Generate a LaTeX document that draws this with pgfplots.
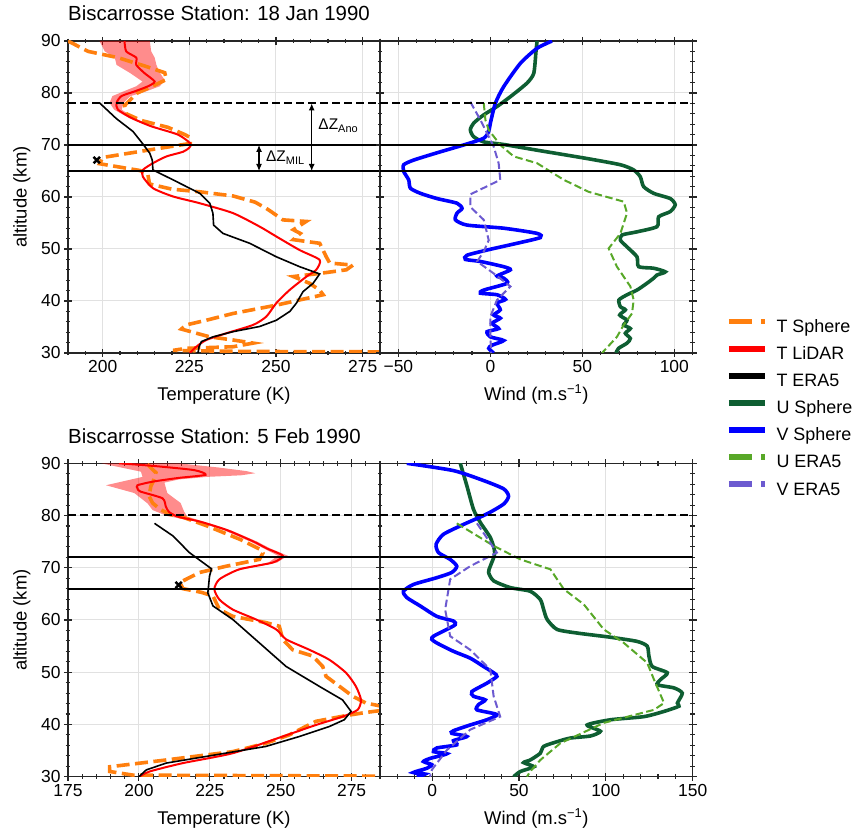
\documentclass[border=0pt]{standalone}
\usepackage{fontspec}
\setmainfont{Liberation Sans}
\usepackage{pgfplots}
\pgfplotsset{compat=1.18}
\usetikzlibrary{arrows.meta}

\definecolor{tsph}{RGB}{255,127,14}
\definecolor{usph}{RGB}{14,94,50}
\definecolor{vsph}{RGB}{0,0,255}
\definecolor{uera}{RGB}{88,168,40}
\definecolor{vera}{RGB}{108,90,208}
\definecolor{gridc}{RGB}{225,225,225}

\pgfplotsset{
  panel/.style={
    scale only axis, width=312bp, height=312bp,
    ymin=30, ymax=90, ytick={30,40,...,90}, minor ytick={30,32,...,90},
    tick align=center, tickpos=both, ticklabel pos=left,
    major tick length=8bp, minor tick length=4.5bp,
    tick style={black!85, line width=1.1bp},
    axis line style={black!85, line width=1.3bp},
    grid=major, major grid style={gridc, line width=1bp},
    tick label style={font=\fontsize{17.5}{20}\selectfont},
    /pgf/number format/assume math mode=true,
    label style={font=\fontsize{18.5}{22}\selectfont},
    xlabel style={at={(axis description cs:0.5,-0.151)}, anchor=base, inner sep=0pt},
    ylabel style={at={(axis description cs:-0.133,0.5)}, anchor=base, inner sep=0pt},
    title style={at={(axis description cs:0,1.045)}, anchor=base west, inner sep=0pt,
      font=\fontsize{20.5}{24}\selectfont},
  },
  tsphere/.style={tsph, line width=3.6bp, dash pattern=on 13bp off 5.5bp},
  tlidar/.style={red, line width=2bp, smooth, tension=0.4},
  tera/.style={black, line width=1.6bp},
  usphere/.style={usph, line width=3.6bp, smooth, tension=0.4},
  vsphere/.style={vsph, line width=3.6bp, smooth, tension=0.4},
  uera5/.style={uera, line width=2bp, dash pattern=on 7.5bp off 3.5bp},
  vera5/.style={vera, line width=2bp, dash pattern=on 7.5bp off 3.5bp},
  hsolid/.style={black, line width=1.8bp},
  hdash/.style={black, line width=1.9bp, dash pattern=on 8bp off 4bp},
  band/.style={draw=none, fill=red, fill opacity=0.45},
}

\begin{document}
\begin{tikzpicture}
\useasboundingbox (0,0) rectangle (857bp,832bp);

% ---------------- top left: temperature, 18 Jan 1990
\begin{axis}[panel, at={(68bp,479bp)}, anchor=south west,
  xmin=190, xmax=280, xtick={200,225,250,275}, minor xtick={190,195,...,280},
  xlabel={Temperature (K)}, ylabel={altitude (km)},
  title={Biscarrosse Station: 18 Jan 1990}]
\addplot[band] coordinates {
  (213.6,90) (214,88) (215,86.8) (215.5,85.4) (216.4,84) (217.9,82.5) (216.5,81.3)
  (212.5,80.3) (208,79.4) (206,78.1) (205.5,76.8) (209,75.2) (214.5,73.6)
  (213.5,73.6) (207.6,75.2) (203.3,76.8) (202,78.1) (202.8,79.4) (206,80.3)
  (209.7,81.3) (211.5,82.2) (208,83.8) (204,85.4) (203.5,86.8) (200.6,88) (199.1,90)} -- cycle;
\addplot[tsphere] coordinates {
  (190,90) (195.8,88) (204.4,86.8) (212.1,85.2) (217.9,83.9) (218.4,82.6) (215,81.5)
  (210,80) (206.3,77.6) (206.8,76) (211.2,74.7) (218.8,73.4) (223.7,72) (225.1,71.5)
  (225.3,70.3) (213,69) (200,67.6) (199.1,66.4) (210.7,65.1) (213,64.5) (213.5,62.5)
  (220,61.5) (228,61) (237.6,60.2) (244,59) (247.2,57.8) (249,57) (252,55.6)
  (258.7,55.3) (255,53.7) (257,53) (255,51.8) (262.6,51.1) (264.5,48.5) (265.5,47.3)
  (272.2,46.9) (270.3,46) (262.6,45.3) (255,44.7) (259.7,43.4) (262.6,42.1)
  (263.6,41.2) (256.8,40.2) (250.1,39.2) (237.6,37.6) (229.9,36.3) (224.1,35.4)
  (222.7,34.6) (230.9,33.1) (237.6,32.5) (243.4,31.9) (237.6,31.2) (224.1,30.9)
  (220.3,30.5) (240,30.3) (290,30.2)};
\addplot[tlidar] coordinates {
  (206.3,90) (206.8,88) (209.7,86.8) (209.7,85.4) (212.1,83.8) (215,82.2) (213.1,81.3)
  (209.2,80.3) (205.4,79.4) (204,78.1) (204.4,76.8) (208.3,75.2) (214,73.6)
  (221.7,72) (225.3,70.3) (225,69.5) (223.2,68.7) (218.4,67.8) (214.5,66.5)
  (211.6,65.2) (211.6,63.9) (214.5,61.7) (220.3,60.1) (228,58.8) (237.6,56.9)
  (245.3,54.3) (250.1,52.4) (256.8,49.8) (262.6,47.9) (261.6,46) (258.8,44.7)
  (253.9,42.1) (250.1,39.6) (247.2,37) (243.4,35.4) (235.7,33.8) (229.9,32.5)
  (227,31.2) (225.1,30)};
\addplot[tera] coordinates {
  (199.1,78.1) (203.9,75.1) (208.75,72.6) (211.6,70.2) (213.6,68.4) (214.3,67.1)
  (214.5,65.2) (220.3,63.3) (228,60.7) (230.9,58.8) (231.8,56.9) (232,54.6)
  (234.7,53) (242.4,51.1) (250.1,48.5) (256.8,46.6) (262.6,45.2) (260.7,43.4)
  (257.8,41.8) (255.9,39.6) (254,38) (250.1,36.3) (245.3,35.1) (237.6,34.1)
  (231.8,33.1) (228.5,32.2) (227.8,31.2) (227.5,30)};
\addplot[only marks, mark=x, mark size=4.5bp, line width=2.5bp, black] coordinates {(198.3,67.1)};
\addplot[hdash] coordinates {(190,78) (280,78)};
\addplot[hsolid] coordinates {(190,70) (280,70)};
\addplot[hsolid] coordinates {(190,65) (280,65)};
\draw[black, line width=1.1bp, {Latex[length=7bp,width=6bp]}-{Latex[length=7bp,width=6bp]}]
  (axis cs:260.3,78) -- (axis cs:260.3,65);
\draw[black, line width=1.1bp, {Latex[length=7bp,width=6bp]}-{Latex[length=7bp,width=6bp]}]
  (axis cs:245.1,70) -- (axis cs:245.1,65);
\node[anchor=base west, inner sep=0pt, font=\fontsize{15.5}{18}\selectfont]
  at (axis cs:262.2,72.9) {ΔZ\raisebox{-2.5bp}{\fontsize{11}{13}\selectfont Ano}};
\node[anchor=base west, inner sep=0pt, font=\fontsize{15.5}{18}\selectfont]
  at (axis cs:247.1,66.8) {ΔZ\raisebox{-2.5bp}{\fontsize{11}{13}\selectfont MIL}};
\end{axis}

% ---------------- top right: wind, 18 Jan 1990
\begin{axis}[panel, at={(380bp,479bp)}, anchor=south west, width=312.7bp,
  xmin=-60, xmax=110, xtick={-50,0,50,100}, xticklabels={−50,0,50,100},
  minor xtick={-60,-50,...,110}, yticklabels={},
  xlabel={Wind (m.s\textsuperscript{−1})},
  legend style={at={(1.1065,0.109)}, anchor=north west, draw=none, fill=none,
    inner sep=0pt, outer sep=0pt, font=\fontsize{18}{21}\selectfont,
    row sep=9.3bp, column sep=9bp,
    nodes={inner sep=0pt, text height=13bp, text depth=4bp}},
  legend cell align=left,
  legend image code/.code={\draw[#1] (0bp,6.5bp) -- (36bp,6.5bp);}]
\addlegendimage{tsph, line width=5.5bp, dash pattern=on 23bp off 9bp}
\addlegendentry{T Sphere}
\addlegendimage{red, line width=5.5bp}
\addlegendentry{T LiDAR}
\addlegendimage{black, line width=5.5bp}
\addlegendentry{T ERA5}
\addlegendimage{usph, line width=5.5bp}
\addlegendentry{U Sphere}
\addlegendimage{vsph, line width=5.5bp}
\addlegendentry{V Sphere}
\addlegendimage{uera, line width=5.5bp, dash pattern=on 23bp off 9bp}
\addlegendentry{U ERA5}
\addlegendimage{vera, line width=5.5bp, dash pattern=on 23bp off 9bp}
\addlegendentry{V ERA5}
\addplot[usphere, forget plot] coordinates {
  (25.4,90) (24.8,88) (23.6,83.8) (19.9,81.9) (10.9,79.3) (3.6,77.4) (-3.6,75.8)
  (-9.1,74.2) (-10.9,72.9) (-9.1,71.6) (-3.6,70.6) (7.2,70.1) (25.4,69) (52.5,67.4)
  (70.7,66.2) (77.9,65.2) (81.5,63.9) (83.3,62) (88.8,60.7) (97.8,59.7) (100.5,58.5)
  (97.8,57.2) (91.5,56.2) (90.6,54.3) (79.7,53.3) (71.6,52.7) (70.7,51.7) (74.3,50.4)
  (79.7,48.5) (80.6,46.6) (88.8,46.3) (95.1,45.6) (90.6,45) (88.8,44.4) (85.1,43.4)
  (79.7,42.1) (74.3,41.2) (69.9,40.2) (70.7,38.9) (73.4,38.3) (70.3,37.3) (74.3,36.3)
  (72.5,35.4) (76.1,34.7) (73.4,33.8) (76.1,32.8) (74.3,31.9) (69.7,30.9) (68.3,30)};
\addplot[vsphere, forget plot] coordinates {
  (33.5,90) (25.4,88.6) (16.3,85.7) (7.2,81.2) (2.7,78) (0,74.2) (-0.9,72.6)
  (-3.6,71.3) (-12.7,70.2) (-29,68.5) (-41.7,67.1) (-47.1,66.2) (-47.1,64.9)
  (-44.4,63.3) (-43.5,61.7) (-38,60.7) (-29,59.7) (-18.1,58.8) (-15.4,57.8)
  (-18.1,56.9) (-19,55.6) (-12.7,54.6) (7.2,54) (25.4,53) (27.2,52.2) (14.5,51.1)
  (-1.8,49.8) (-12.7,48.8) (-13.6,48) (-5.4,47.6) (7.2,46.6) (10.9,46) (3.6,44.8)
  (7.2,44.4) (9.1,43.4) (-3.6,42.1) (-5.4,41.5) (3.6,41.2) (8.2,40.3) (3.6,39.6)
  (5.4,38.3) (1.8,37.3) (5.4,36.7) (0.9,35.7) (4.5,34.7) (-1.8,34.1) (0,33.1)
  (7.2,32.4) (0.9,31.5) (-0.9,30.9) (1.8,30)};
\addplot[uera5, forget plot] coordinates {
  (-3.6,78.1) (-2.7,74.8) (-0.9,72.9) (5.4,70) (12.7,67.8) (25.4,66.5) (39.9,63.3)
  (53.4,61) (72.5,59.1) (74.3,56.9) (70.7,53) (64.3,50.1) (68.8,46.6) (76.1,42.8)
  (77.9,40.2) (77,37.6) (72.5,35.4) (68.8,33.1) (60.7,30)};
\addplot[vera5, forget plot] coordinates {
  (-10.9,78.3) (-5.4,74.8) (-2.7,72.9) (1.8,69.7) (4.5,66.5) (5.4,63.3) (-10.9,60.5)
  (-10.9,58.1) (-3.6,55.6) (-0.9,51.7) (-3.6,49.5) (-7.2,47.6) (1.8,45.3)
  (10.9,42.8) (3.6,40.2) (0,37) (0,33.8) (0.4,30)};
\addplot[hdash, forget plot] coordinates {(-60,78) (110,78)};
\addplot[hsolid, forget plot] coordinates {(-60,70) (110,70)};
\addplot[hsolid, forget plot] coordinates {(-60,65) (110,65)};
\end{axis}

% ---------------- bottom left: temperature, 5 Feb 1990
\begin{axis}[panel, at={(68bp,55.3bp)}, anchor=south west, height=313.4bp,
  xmin=175, xmax=285, xtick={175,200,225,250,275}, minor xtick={175,180,...,285},
  xlabel={Temperature (K)}, ylabel={altitude (km)},
  title={Biscarrosse Station: 5 Feb 1990}]
\addplot[band] coordinates {
  (214,90) (228,89.2) (238,88.5) (241,88.1) (236,87.7) (224,87.4) (214,86.9)
  (209,86.3) (210,84.3) (214.7,82.4) (215.9,80.8) (217,79.8) (223,78.8) (232.3,77.2)
  (241.7,75) (246.3,73.7) (252.5,72.3) (248.7,71) (236.6,69.7)
  (234.2,69.7) (245.7,71) (249,72.3) (244,73.7) (239.3,75) (229.9,77.2) (220.6,78.8)
  (210,79.9) (204.8,81.05) (203.1,82.3) (198.4,84.3) (188.4,85.8) (201.3,87.4)
  (200.7,88.4) (186.7,90)} -- cycle;
\addplot[tsphere] coordinates {
  (203,89.8) (206,88.2) (205,86.5) (204.2,85.6) (203.6,83.7) (204.8,82.4)
  (207.7,81.1) (211.2,80.2) (215.9,79.6) (224.1,78) (235.8,75.4) (242.8,73.5)
  (243.7,72.8) (242.5,71.6) (230.8,70.3) (221.4,69.1) (214.5,67.2) (215.5,66)
  (222,65.3) (226.1,64.6) (228.4,62) (233.1,60.7) (244.8,59.5) (249.5,58.8)
  (250.7,56.3) (254.2,54.3) (261.3,53.1) (264.8,51.1) (266,49.2) (270.7,47.3)
  (275.4,45.4) (280,44.1) (290,43) (280,42.3) (273,41.7) (262.4,40.6) (256.6,39)
  (253,38) (244.8,36.4) (233.1,34.8) (209.6,33.2) (189.7,31.9) (189.7,31)
  (197.9,30.3) (290,30.1)};
\addplot[tlidar] coordinates {
  (193,90) (205,89.5) (219.4,88.7) (223.5,87.8) (214,87.2) (205,86.5) (199.5,85.8)
  (199.5,85.2) (200.5,84.6) (208.3,83.3) (209.5,81.7) (210.6,80.7) (213.6,79.8)
  (221.8,78.8) (231.1,77.2) (240.5,75) (245.1,73.7) (250.7,72.3) (247.2,71)
  (235.4,69.7) (228.4,67.8) (226.6,65.9) (228.4,63.9) (233.1,62) (241.3,60.1)
  (248.4,58.2) (251.9,56.3) (260.1,54.3) (267.1,52.4) (273,49.9) (276.5,47.3)
  (278.3,44.7) (277.1,42.8) (271.8,41.5) (262.4,39.9) (250.7,37.7) (233.1,34.5)
  (215.5,32.6) (203.8,31) (200.2,30)};
\addplot[tera] coordinates {
  (205.5,78.5) (212,76.1) (217.8,72.9) (225.6,69.8) (224.9,68.4) (224.3,65.2)
  (226.1,62.7) (233.1,60.1) (242.5,55.6) (251.9,51.1) (263.6,47.3) (271.8,44.7)
  (274.8,42.5) (272.4,40.9) (267.1,39.6) (256.6,37.7) (244.8,35.8) (227.2,34.2)
  (209.6,32.6) (202.6,31.3) (200,30)};
\addplot[only marks, mark=x, mark size=4.5bp, line width=2.5bp, black] coordinates {(214,66.7)};
\addplot[hdash] coordinates {(175,80.03) (285,80.03)};
\addplot[hsolid] coordinates {(175,72) (285,72)};
\addplot[hsolid] coordinates {(175,66) (285,66)};
\end{axis}

% ---------------- bottom right: wind, 5 Feb 1990
\begin{axis}[panel, at={(380bp,55.3bp)}, anchor=south west, width=312.7bp, height=313.4bp,
  xmin=-30, xmax=150, xtick={0,50,100,150}, minor xtick={-30,-20,...,150},
  yticklabels={}, xlabel={Wind (m.s\textsuperscript{−1})}]
\addplot[usphere] coordinates {
  (16.2,90) (20,85.7) (23.8,81.2) (27.7,78.7) (33.5,75.8) (35.8,73.5) (35.8,72.3)
  (33.5,70.3) (32.5,69.1) (35.4,67.5) (45,66.2) (56.5,65.5) (62.3,63.9) (64.2,62)
  (66.2,60.1) (71.9,58.2) (83.5,57.5) (102.7,56.7) (118,55.9) (123.8,55) (124.8,53.1)
  (126.7,51.1) (135.4,49.9) (131.5,48.6) (129.6,47.6) (139.2,47) (144,46) (141.2,44.1)
  (142.1,43.5) (133.5,42.5) (121.9,41.5) (102.7,40.9) (89.2,39.9) (96.9,38.7)
  (91.2,37.8) (79.6,37.4) (71.9,36.7) (64.2,35.8) (62.3,34.5) (56.5,33.2) (52.7,32.7)
  (58.5,31.9) (50.8,31) (46.9,30)};
\addplot[vsphere] coordinates {
  (-14.6,90) (12.3,88.6) (29.6,86.7) (41.2,85.1) (44,83.7) (41.2,82.2) (31.5,80.3)
  (18.1,78.3) (6.5,76.4) (2.3,74.5) (3.7,72.9) (10.4,71.6) (14.2,70.3) (11.3,69.1)
  (2.7,68.1) (-10.8,66.8) (-16.5,65.5) (-14.6,64.3) (-6.9,62.7) (2.7,60.7)
  (12.3,59.8) (13.3,59.1) (8.5,58.2) (0.8,56.9) (-0.2,56.3) (2.7,55.6) (12.3,54)
  (21.9,52.7) (29.6,51.1) (35.4,49.9) (37.3,49.2) (31.5,47.9) (22.9,46.3) (23.8,45.4)
  (30.6,44.7) (26.7,43.8) (25.8,42.8) (37.3,41.9) (31.5,40.9) (21.9,39.9) (12.3,38.8)
  (11.3,38.3) (20,37.7) (12.3,36.9) (14.2,36.1) (2.7,35.5) (0.8,34.8) (8.5,34.4)
  (-1.2,33.5) (-5,32.9) (-0.2,32.3) (-3.1,31.6) (-10.8,30.8) (-4,30.5) (-8.8,30)};
\addplot[uera5] coordinates {
  (14.2,78.5) (35.4,74.2) (50.8,71.6) (68.1,69.7) (75.8,65.9) (87.3,63) (98.8,58.2)
  (110.4,55.6) (123.8,51.8) (127.7,48.6) (133.5,44.1) (127.7,42.8) (98.8,40.3)
  (73.8,36.4) (62.3,33.2) (56.5,31) (54.6,30)};
\addplot[vera5] coordinates {
  (25.8,78.5) (37.3,72.9) (21.9,70.3) (10.4,67.8) (7.5,62) (10.4,56.9) (21.9,54.3)
  (33.5,50.5) (35.4,45.4) (39.2,41.5) (21.9,39) (8.5,35.1) (-0.2,31.3) (-1.2,30)};
\addplot[hdash] coordinates {(-30,80.03) (150,80.03)};
\addplot[hsolid] coordinates {(-30,72) (150,72)};
\addplot[hsolid] coordinates {(-30,66) (150,66)};
\end{axis}
\end{tikzpicture}
\end{document}
